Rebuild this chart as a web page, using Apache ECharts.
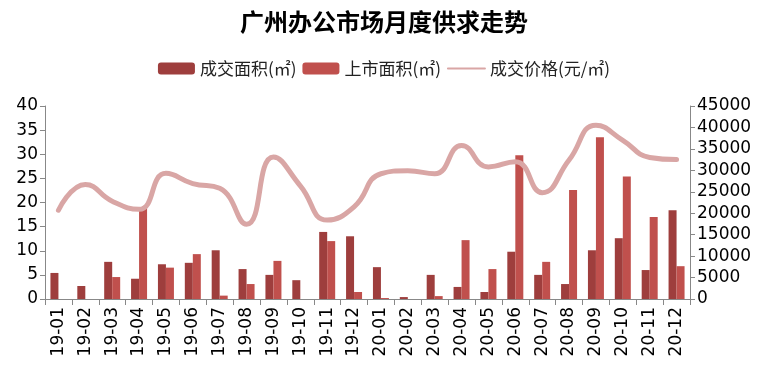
<!DOCTYPE html>
<html>
<head>
<meta charset="utf-8">
<script src="https://cdn.jsdelivr.net/npm/echarts@6/dist/echarts.min.js"></script>
<style>html,body{margin:0;padding:0;background:#fff}#c{width:768px;height:371px}</style>
</head>
<body>
<div id="c"></div>
<script>
const categories = ['19-01','19-02','19-03','19-04','19-05','19-06','19-07','19-08','19-09','19-10','19-11','19-12',
  '20-01','20-02','20-03','20-04','20-05','20-06','20-07','20-08','20-09','20-10','20-11','20-12'];
const dealArea = [5.4,2.7,7.7,4.2,7.2,7.5,10.1,6.2,5.0,3.9,13.9,13.0,6.6,0.4,5.0,2.5,1.45,9.8,5.0,3.1,10.1,12.6,6.0,18.4];
const supplyArea = [0,0,4.55,19.0,6.5,9.3,0.7,3.1,7.9,0,12.0,1.45,0.2,0,0.6,12.2,6.2,29.8,7.7,22.6,33.5,25.4,17.0,6.8];
const dealPrice = [20700,26700,22800,20900,29300,26900,25800,17400,33100,26400,18400,21500,29200,29900,29200,35800,30800,32000,24800,32400,40500,37000,33000,32500];
const leftTicks = {min:0,max:40,interval:5};
const rightTicks = {min:0,max:45000,interval:5000};

const font = "'DejaVu Sans','Noto Sans CJK SC',sans-serif";
const cjk = "'Noto Sans CJK SC','DejaVu Sans',sans-serif";
const chart = echarts.init(document.getElementById('c'), null, {renderer:'canvas'});
chart.setOption({
  animation:false,
  title:{text:'广州办公市场月度供求走势',left:'center',top:5,
    textStyle:{fontFamily:cjk,fontSize:24,fontWeight:'bold',color:'#000'}},
  legend:{top:55,left:'center',itemWidth:37,itemHeight:12,itemGap:6,
    textStyle:{fontFamily:cjk,fontSize:17,color:'#222'},
    data:['成交面积(㎡)','上市面积(㎡)',{name:'成交价格(元/㎡)',itemStyle:{opacity:0}}]},
  grid:{left:45,right:78,top:106,bottom:72},
  xAxis:{type:'category',data:categories,
    axisLine:{lineStyle:{color:'#888'}},
    axisTick:{show:true,length:6,lineStyle:{color:'#888'}},
    axisLabel:{rotate:90,interval:0,margin:8,fontFamily:font,fontSize:17,color:'#000'}},
  yAxis:[
    {type:'value',min:leftTicks.min,max:leftTicks.max,interval:leftTicks.interval,
     axisLine:{show:true,lineStyle:{color:'#888'}},axisTick:{show:true,length:5,lineStyle:{color:'#888'}},
     splitLine:{show:false},axisLabel:{fontFamily:font,fontSize:17,color:'#000',margin:7}},
    {type:'value',min:rightTicks.min,max:rightTicks.max,interval:rightTicks.interval,
     axisLine:{show:true,lineStyle:{color:'#888'}},axisTick:{show:true,length:5,lineStyle:{color:'#888'}},
     splitLine:{show:false},axisLabel:{fontFamily:font,fontSize:17,color:'#000',margin:7,formatter:v=>String(v)}}
  ],
  series:[
    {name:'成交面积(㎡)',type:'bar',data:dealArea,barWidth:8,barGap:'0%',itemStyle:{color:'#9e3e3d'}},
    {name:'上市面积(㎡)',type:'bar',data:supplyArea,barWidth:8,barGap:'0%',itemStyle:{color:'#c0504d'}},
    {name:'成交价格(元/㎡)',type:'line',yAxisIndex:1,data:dealPrice,smooth:true,showSymbol:false,symbol:'none',
     lineStyle:{width:5,color:'#d9a6a5',cap:'round'},itemStyle:{color:'#d9a6a5'}}
  ]
});
</script>
</body>
</html>
